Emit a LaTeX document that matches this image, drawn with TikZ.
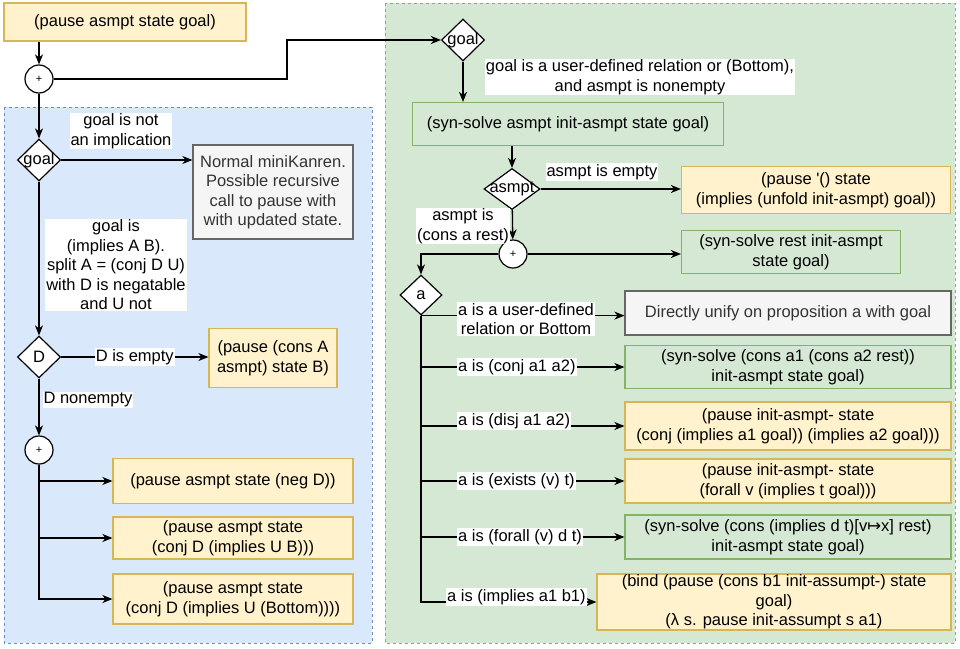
\documentclass[tikz,border=0pt]{standalone}
\usepackage{fontspec}
\setmainfont{Liberation Sans}
\newfontfamily\symfont{DejaVu Sans}
\usetikzlibrary{shapes.geometric,arrows.meta}
\definecolor{ylwfill}{HTML}{FFF2CC}
\definecolor{ylwline}{HTML}{D6B656}
\definecolor{grnfill}{HTML}{D5E8D4}
\definecolor{grnline}{HTML}{82B366}
\definecolor{blufill}{HTML}{DAE8FC}
\definecolor{bluline}{HTML}{6C8EBF}
\definecolor{gryfill}{HTML}{F5F5F5}
\definecolor{gryline}{HTML}{666666}
\definecolor{grytext}{HTML}{333333}

\begin{document}
\begin{tikzpicture}[x=1pt,y=-1pt,
		every node/.style={font=\fontsize{16.5}{19.5}\selectfont},
		sz/.style 2 args={minimum width=#1pt,minimum height=#2pt},
		box/.style={draw,line width=1.2pt,align=center,inner sep=1pt},
		ybox/.style={box,draw=ylwline,fill=ylwfill},
		sbox/.style={box,draw=grnline,fill=grnfill},
		nbox/.style={box,draw=gryline,fill=gryfill,text=grytext},
		junc/.style={circle,draw,fill=white,line width=1.2pt,minimum size=28pt,inner sep=0pt,font=\fontsize{11}{12}\selectfont},
		dec/.style={diamond,draw,fill=white,line width=1.2pt,inner sep=0pt,minimum width=43pt,minimum height=42pt},
		lbl/.style={fill=white,inner sep=1pt,align=center},
		arr/.style={line width=1.3pt,-{Stealth[length=10pt,width=8pt,inset=3pt]}},
		conn/.style={line width=1.3pt},
		panel/.style={line width=0.9pt,dash pattern=on 3pt off 3pt}]
	\useasboundingbox (0,0) rectangle (960,648);
	\draw[panel,draw=bluline,fill=blufill] (4,107) rectangle (372,643);
	\draw[panel,draw=grnline,fill=grnfill] (385,3) rectangle (955,643);

	\node[ybox,sz={242}{38}] (start) at (125,22) {(pause asmpt state goal)};
	\node[junc] (j1) at (39,79) {+};
	\node[dec,label=center:goal] (g1) at (39,160) {};
	\node[nbox,sz={160}{94}] (mk) at (273,192) {Normal miniKanren.\\Possible recursive\\call to pause with\\with updated state.};
	\node[dec,label=center:D] (dd) at (39,357) {};
	\node[ybox,sz={128}{59}] (ca) at (273,358) {(pause (cons A\\asmpt) state B)};
	\node[junc] (j2) at (39,450) {+};
	\node[ybox,sz={240}{45}] (ng) at (233,481) {(pause asmpt state (neg D))};
	\node[ybox,sz={240}{42}] (cu) at (233,538) {(pause asmpt state\\(conj D (implies U B)))};
	\node[ybox,sz={240}{50}] (cb) at (233,599) {(pause asmpt state\\(conj D (implies U (Bottom))))};

	\node[dec,label=center:goal] (g2) at (463,40) {};
	\node[sbox,sz={311}{43}] (ss) at (568,124) {(syn-solve asmpt init-asmpt state goal)};
	\node[dec,sz={56}{41},label=center:asmpt] (as) at (512,189) {};
	\node[ybox,sz={269}{47}] (pe) at (816,190) {(pause \textquotesingle() state\\(implies (unfold init-asmpt) goal))};
	\node[junc] (j3) at (513,254) {+};
	\node[sbox,sz={219}{43}] (sr) at (791,252) {(syn-solve rest init-asmpt\\state goal)};
	\node[dec,sz={42}{40},label=center:a] (da) at (421,295) {};
	\node[nbox,sz={326}{44}] (du) at (788,313) {Directly unify on proposition a with goal};
	\node[sbox,sz={326}{43}] (cj) at (788,367) {(syn-solve (cons a1 (cons a2 rest))\\init-asmpt state goal)};
	\node[ybox,sz={326}{48}] (dj) at (788,426) {(pause init-asmpt- state\\(conj (implies a1 goal)) (implies a2 goal)))};
	\node[ybox,sz={326}{44}] (ex) at (788,481) {(pause init-asmpt- state\\(forall v (implies t goal)))};
	\node[sbox,sz={326}{44}] (fa) at (788,537) {(syn-solve (cons (implies d t)[v{\symfont ↦}x] rest)\\init-asmpt state goal)};
	\node[ybox,sz={354}{56},inner sep=0pt] (bi) at (774,602) {(bind (pause (cons b1 init-assumpt-) state\\goal)\\(λ s. pause init-assumpt s a1)};
	\coordinate (bend) at (287,40);

	\draw[arr] (start.south -| j1) -- (j1);
	\draw[arr] (j1) -- (j1 -| bend) |- (g2);
	\draw[arr] (j1) -- (g1);
	\draw[arr] (g1) -- (g1 -| mk.west);
	\draw[arr] (g1) -- (dd);
	\draw[arr] (dd) -- node[lbl] (lde) {D is empty} (dd -| ca.west);
	\draw[arr] (dd) -- (j2);
	\draw[arr] (j2) |- (ng);
	\draw[arr] (j2) |- (cu);
	\draw[arr] (j2) |- (cb);

	\draw[arr] (g2) -- (g2 |- ss.north);
	\draw[arr] (ss.south -| as) -- (as);
	\draw[arr] (as) -- (as -| pe.west);
	\draw[arr] (as) -- (j3);
	\draw[arr] (j3) -- (j3 -| sr.west);
	\draw[arr] (j3) -| (da);
	\draw[conn] (da.south) -- (da.south |- bi);
	\draw[arr] (da.south) -- (da.south -| du.west);
	\draw[arr] (da) |- (cj);
	\draw[arr] (da) |- (dj);
	\draw[arr] (da) |- (ex);
	\draw[arr] (da) |- (fa);
	\draw[arr] (da) |- (bi);

	\node[lbl] (lg1) at (121,131) {goal is not\\an implication};
	\node[lbl] (lg2) at (116,265) {goal is\\(implies A B).\\split A = (conj D U)\\with D is negatable\\and U not};
	\node[lbl] (ldn) at (88,400) {D nonempty};
	\node[lbl] (lg3) at (640,77) {goal is a user-defined relation or (Bottom),\\and asmpt is nonempty};
	\node[lbl] (lae) at (602,172) {asmpt is empty};
	\node[lbl] (lac) at (463,226) {asmpt is\\(cons a rest)};
	\node[lbl,anchor=west] (la1) at (457,319) {a is a user-defined\\relation or Bottom};
	\node[lbl,anchor=west] (la2) at (457,367) {a is (conj a1 a2)};
	\node[lbl,anchor=west] (la3) at (457,421) {a is (disj a1 a2)};
	\node[lbl,anchor=west] (la4) at (457,481) {a is (exists (v) t)};
	\node[lbl,anchor=west] (la5) at (457,537) {a is (forall (v) d t)};
	\node[lbl,anchor=west] (la6) at (446,597) {a is (implies a1 b1)};
\end{tikzpicture}
\end{document}
